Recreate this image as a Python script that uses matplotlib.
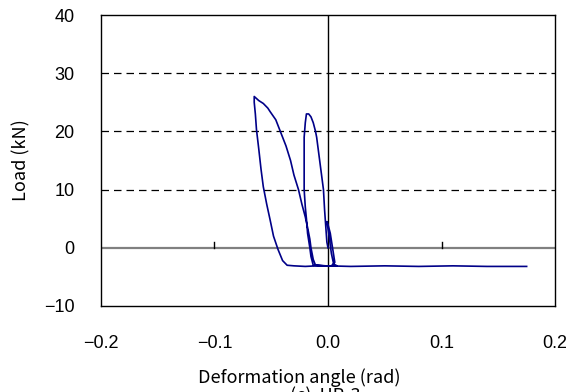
import numpy as np
import matplotlib.pyplot as plt

# hysteresis trace (rad, kN)
angle = [0.000, -0.001, -0.003, -0.004, -0.006, -0.008, -0.010, -0.011, -0.013, -0.015, -0.017, -0.019,
         -0.020, -0.021, -0.021, -0.021, -0.021, -0.020, -0.019, -0.018, -0.016, -0.015, -0.013,
         -0.008, -0.002, 0.003, 0.006, 0.004, 0.002, 0.000, -0.001, 0.001, 0.003, 0.005, 0.008,
         0.004, -0.004, -0.011, -0.013, -0.015, -0.016, -0.018, -0.020, -0.023, -0.026, -0.030,
         -0.033, -0.037, -0.042, -0.046, -0.051, -0.053, -0.057, -0.061, -0.065,
         -0.065, -0.064, -0.063, -0.061, -0.059, -0.057, -0.054, -0.051, -0.048, -0.044,
         -0.040, -0.036, -0.030, -0.020, -0.010, 0.000, 0.020, 0.050, 0.080, 0.110, 0.140, 0.175]
load = [0.0, 1.0, 6.5, 10.0, 13.0, 16.0, 19.0, 20.0, 21.5, 22.5, 23.0, 23.0,
        21.5, 19.0, 15.0, 12.0, 10.0, 7.0, 5.0, 2.5, 0.0, -1.5, -3.0,
        -3.0, -3.1, -3.1, -2.5, 0.0, 2.5, 4.0, 4.5, 2.0, -1.0, -2.8, -3.1,
        -3.1, -3.1, -3.0, -2.0, 0.0, 1.5, 3.5, 5.3, 7.5, 10.0, 12.5,
        15.0, 17.5, 20.0, 22.0, 23.4, 24.0, 24.8, 25.3, 26.0,
        25.0, 23.0, 20.3, 17.0, 13.5, 10.5, 7.5, 4.8, 2.0, -0.3,
        -2.2, -3.0, -3.1, -3.2, -3.1, -3.1, -3.2, -3.1, -3.2, -3.1, -3.2, -3.2]

xticks = [-0.2, -0.1, 0.0, 0.1, 0.2]
yticks = [-10, 0, 10, 20, 30, 40]
xlabels = ['\u22120.2', '\u22120.1', '0.0', '0.1', '0.2']
ylabels = ['\u221210', '0', '10', '20', '30', '40']

jp = ['Noto Sans CJK JP', 'DejaVu Sans']

fig = plt.figure(figsize=(5.66, 3.92), dpi=100)
ax = fig.add_axes([0.1784, 0.2194, 0.8022, 0.7423])

for g in [10, 20, 30]:
    ax.axhline(g, color='black', lw=0.9, ls=(0, (6, 4)), zorder=1)
ax.axhline(0, color='#808080', lw=1.6, zorder=1)
ax.axvline(0, color='black', lw=1.0, zorder=1)
for t in [-0.1, 0.1]:
    ax.plot([t, t], [0, 1.0], color='black', lw=1.0, zorder=1)

ax.plot(angle, load, color='#000088', lw=1.2, zorder=3)

ax.set_xlim(-0.2, 0.2)
ax.set_ylim(-10, 40)
ax.set_xticks(xticks)
ax.set_xticklabels(xlabels)
ax.set_yticks(yticks)
ax.set_yticklabels(ylabels)
ax.tick_params(axis='x', length=0, labelsize=13, pad=21)
ax.tick_params(axis='y', length=0, labelsize=13, pad=19)
for lab in ax.get_xticklabels() + ax.get_yticklabels():
    lab.set_family('Liberation Sans')
for s in ax.spines.values():
    s.set_linewidth(1.0)
    s.set_color('black')

ax.set_ylabel('Load (kN)', family=jp, fontsize=13, labelpad=10)
fig.text(0.528, 0.036, 'Deformation angle (rad)', family=jp,
         fontsize=13, ha='center', va='center')
fig.text(0.574, -0.012, '(c)  HP-3', family=jp,
         fontsize=13, ha='center', va='center')

fig.savefig('out.png', dpi=100)
